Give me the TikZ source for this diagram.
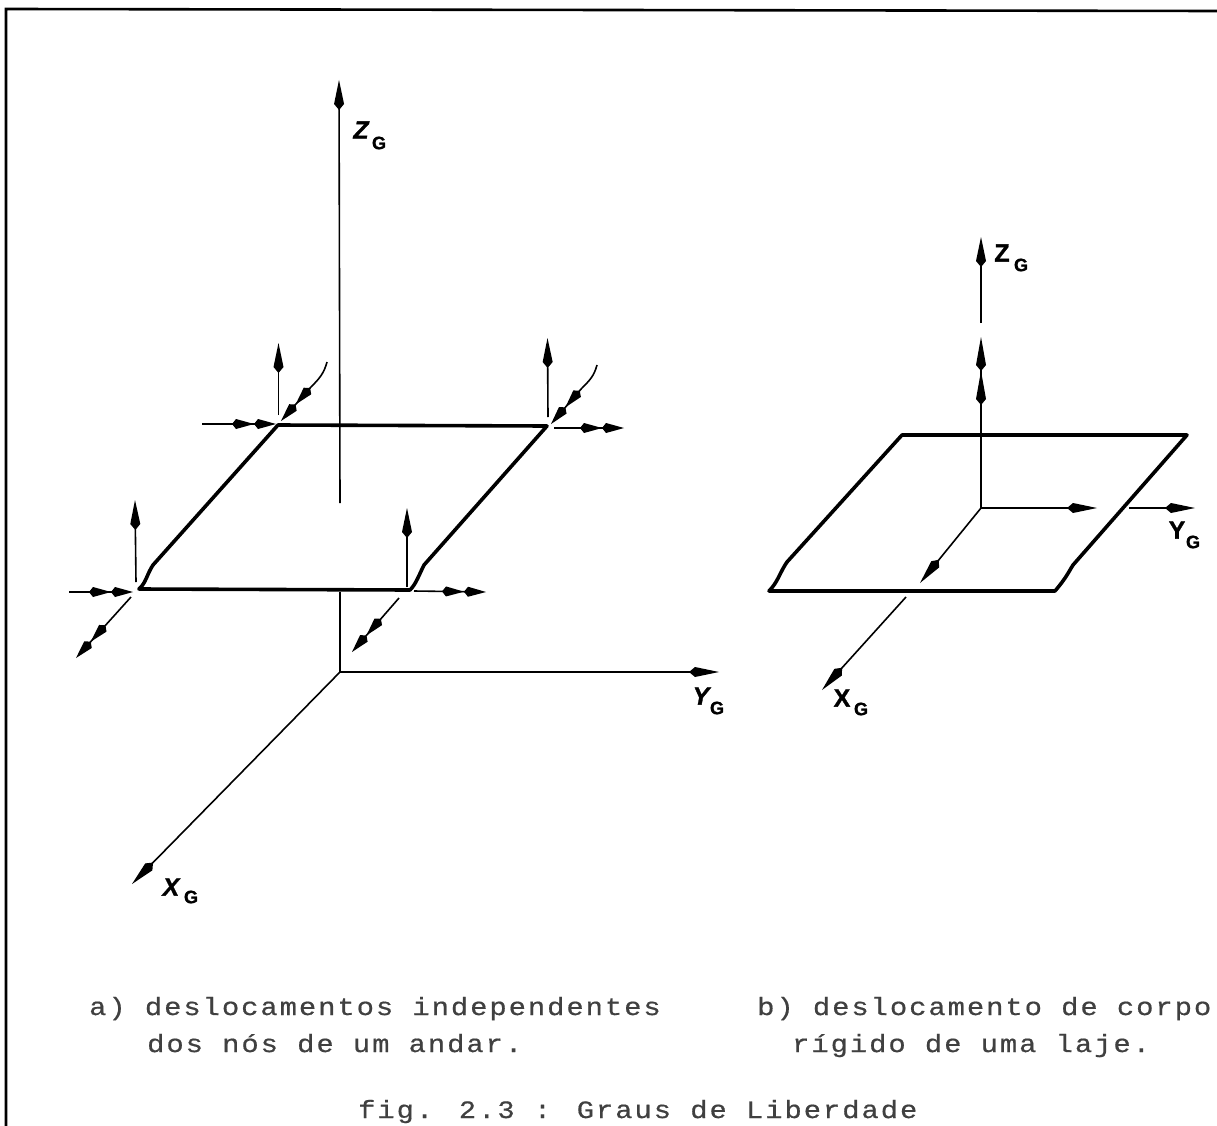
\documentclass[tikz,border=0pt]{standalone}
\usepackage{fontspec}
\setmainfont{Liberation Sans}
\newfontfamily\capfont[LetterSpace=8,FakeStretch=1.15,FakeBold=0.6]{Liberation Mono}
\newfontfamily\labfont[BoldFeatures={FakeBold=1.2},BoldItalicFeatures={FakeBold=1.2}]{Liberation Sans}
\usetikzlibrary{arrows.meta}
\tikzset{
  x=1pt,y=-1pt,
  thinline/.style={line width=1.6pt,black},
  thickline/.style={line width=3.6pt,black,line join=round,line cap=round},
  onehead/.style={thinline,-{Kite[length=30pt,width=10pt,inset=6pt]}},
  twohead/.style={thinline,-{Kite[length=22pt,width=10pt,inset=4pt]Kite[length=22pt,width=10pt,inset=4pt]}},
  caption/.style={anchor=base west,inner sep=0pt,text=black!75,font=\capfont\fontsize{25}{30}\selectfont},
  axislabel/.style={anchor=center,inner sep=0pt,font=\labfont\bfseries\itshape\fontsize{25}{28}\selectfont},
  uprightlabel/.style={anchor=center,inner sep=0pt,font=\labfont\bfseries\fontsize{25}{28}\selectfont},
  sublabel/.style={anchor=center,inner sep=0pt,font=\labfont\bfseries\fontsize{18}{20}\selectfont},
}
\begin{document}
\begin{tikzpicture}
\useasboundingbox (0,0) rectangle (1217,1126);
% frame
\coordinate (f1) at (6,1126); \coordinate (f2) at (6,9); \coordinate (f3) at (1217,11);
\draw[line width=2.6pt,black] (f1) -- (f2) -- (f3);

% ---- left figure: global axes
\coordinate (O) at (340,672);
\coordinate (Ztop) at (339,80);
\coordinate (Zgapa) at (340,503);
\coordinate (Zgapb) at (340,592);
\coordinate (Yend) at (719,672);
\coordinate (Xend) at (132,884);
\draw[onehead] (Zgapa) -- (Ztop);
\draw[thinline] (O) -- (Zgapb);
\draw[onehead] (O) -- (Yend);
\draw[onehead] (O) -- (Xend);
\node[axislabel] (lz) at (361,130) {Z};
\node[sublabel] (lzs) at (379,143) {G};
\node[axislabel] (ly) at (701,696) {Y};
\node[sublabel] (lys) at (717,708) {G};
\node[axislabel] (lx) at (171,887) {X};
\node[sublabel] (lxs) at (191,897) {G};

% ---- left slab
\coordinate (A) at (278,425);
\coordinate (B) at (547,426);
\coordinate (C) at (410,590);
\coordinate (D) at (139,589);
\draw[thickline] (D) -- (C)
  .. controls (416,584) and (419,575) .. (424,565) -- (B) -- (A) -- (153,565)
  .. controls (147,574) and (146,583) .. (D);

% node A
\coordinate (Au) at (278.5,415); \coordinate (Aut) at (278.5,343);
\draw[onehead] (Au) -- (Aut);
\coordinate (Al) at (202,424); \coordinate (Alt) at (276,424);
\draw[twohead] (Al) -- (Alt);
\coordinate (Ad) at (327,362); \coordinate (Ads) at (311,387); \coordinate (Adt) at (281,421);
\draw[thinline] (Ad) .. controls (324,373) and (320,378) .. (Ads);
\draw[twohead] (Ads) -- (Adt);
% node B
\coordinate (Bu) at (548,417); \coordinate (But) at (547.5,338);
\draw[onehead] (Bu) -- (But);
\coordinate (Br) at (554,428); \coordinate (Brt) at (624,428);
\draw[twohead] (Br) -- (Brt);
\coordinate (Bd) at (597,365); \coordinate (Bds) at (582,388); \coordinate (Bdt) at (551,424);
\draw[thinline] (Bd) .. controls (594,376) and (590,380) .. (Bds);
\draw[twohead] (Bds) -- (Bdt);
% node D
\coordinate (Du) at (136,582); \coordinate (Dut) at (135,500);
\draw[onehead] (Du) -- (Dut);
\coordinate (Dl) at (69,592); \coordinate (Dlt) at (133,592);
\draw[twohead] (Dl) -- (Dlt);
\coordinate (Dd) at (131,597); \coordinate (Ddt) at (76,658);
\draw[twohead] (Dd) -- (Ddt);
% node C
\coordinate (Cu) at (407,587); \coordinate (Cut) at (407,508);
\draw[onehead] (Cu) -- (Cut);
\coordinate (Cr) at (414,591); \coordinate (Crt) at (486,592);
\draw[twohead] (Cr) -- (Crt);
\coordinate (Cd) at (399,598); \coordinate (Cdt) at (352,652);
\draw[twohead] (Cd) -- (Cdt);

% ---- right figure
\coordinate (P) at (981,508);
\coordinate (Pz1) at (981,337);
\coordinate (Pz2) at (981,323);
\coordinate (Pz3) at (981,237);
\coordinate (Py1) at (1097,508);
\coordinate (Py2) at (1129,508);
\coordinate (Py3) at (1195,508);
\coordinate (Px1) at (920,583);
\coordinate (Px2) at (906,597);
\coordinate (Px3) at (822,690);
\draw[thinline,-{Kite[length=34pt,width=10pt,inset=6pt]Kite[length=34pt,width=10pt,inset=6pt]}] (P) -- (Pz1);
\draw[onehead] (Pz2) -- (Pz3);
\draw[onehead] (P) -- (Py1);
\draw[onehead] (Py2) -- (Py3);
\draw[onehead] (P) -- (Px1);
\draw[onehead] (Px2) -- (Px3);
\coordinate (Q1) at (902,435);
\coordinate (Q2) at (1187,435);
\coordinate (Q3) at (1055,591);
\coordinate (Q4) at (769,591);
\draw[thickline] (Q1) -- (Q2) -- (1073,565)
  .. controls (1068,573) and (1066,578) .. (Q3) -- (Q4)
  .. controls (778,582) and (780,572) .. (787,562) -- cycle;
\node[uprightlabel] (rz) at (1002,253) {Z};
\node[sublabel] (rzs) at (1021,265) {G};
\node[uprightlabel] (ry) at (1177,530) {Y};
\node[sublabel] (rys) at (1193,542) {G};
\node[uprightlabel] (rx) at (842,698) {X};
\node[sublabel] (rxs) at (861,709) {G};

% ---- captions
\node[caption] (t1) at (89,1015) {a) deslocamentos independentes};
\node[caption] (t2) at (147,1052) {dos nós de um andar.};
\node[caption] (t3) at (757,1015) {b) deslocamento de corpo};
\node[caption] (t4) at (792,1052) {rígido de uma laje.};
\node[caption] (t5) at (358,1118) {fig. 2.3 : Graus de Liberdade};
\end{tikzpicture}
\end{document}
